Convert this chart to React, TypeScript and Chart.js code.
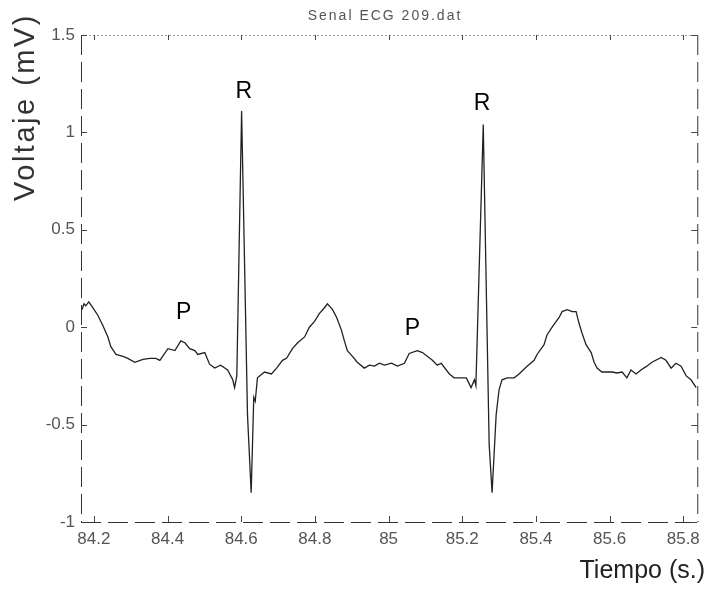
import React, { useEffect, useRef } from "react";
import { Chart, registerables } from "chart.js";

Chart.register(...registerables);

const chartTitle = "Senal ECG 209.dat";
const xAxisTitle = "Tiempo (s.)";
const yAxisTitle = "Voltaje (mV)";

const xMin = 84.165;
const xMax = 85.838;
const yMin = -1;
const yMax = 1.5;

const xTickValues = [84.2, 84.4, 84.6, 84.8, 85, 85.2, 85.4, 85.6, 85.8];
const yTickValues = [-1, -0.5, 0, 0.5, 1, 1.5];

const timeValues = [
  84.168, 84.173, 84.178, 84.186, 84.197, 84.211, 84.224, 84.238, 84.246, 84.26,
  84.279, 84.292, 84.311, 84.333, 84.352, 84.368, 84.379, 84.401, 84.42, 84.436,
  84.447, 84.46, 84.474, 84.482, 84.501, 84.514, 84.528, 84.544, 84.563, 84.577,
  84.582, 84.588, 84.601, 84.617, 84.627, 84.634, 84.638, 84.644, 84.663, 84.682,
  84.696, 84.712, 84.723, 84.739, 84.753, 84.772, 84.785, 84.799, 84.812, 84.826,
  84.834, 84.848, 84.859, 84.872, 84.88, 84.888, 84.902, 84.915, 84.934, 84.948,
  84.962, 84.975, 84.989, 85.008, 85.024, 85.043, 85.056, 85.078, 85.092, 85.119,
  85.132, 85.143, 85.165, 85.178, 85.211, 85.224, 85.233, 85.237, 85.257, 85.273,
  85.281, 85.292, 85.3, 85.308, 85.322, 85.341, 85.354, 85.376, 85.395, 85.403,
  85.422, 85.43, 85.444, 85.455, 85.463, 85.471, 85.485, 85.498, 85.509, 85.517,
  85.525, 85.536, 85.55, 85.558, 85.566, 85.579, 85.593, 85.607, 85.62, 85.634,
  85.647, 85.658, 85.672, 85.685, 85.701, 85.715, 85.74, 85.753, 85.767, 85.78,
  85.794, 85.808, 85.821, 85.835,
];

const voltageValues = [
  0.09, 0.12, 0.11, 0.13, 0.1, 0.06, 0.01, -0.05, -0.1, -0.14,
  -0.15, -0.16, -0.18, -0.165, -0.16, -0.16, -0.17, -0.11, -0.12, -0.07,
  -0.08, -0.11, -0.12, -0.14, -0.13, -0.19, -0.21, -0.195, -0.22, -0.27,
  -0.31, -0.25, 1.11, -0.45, -0.85, -0.36, -0.38, -0.26, -0.23, -0.24,
  -0.21, -0.17, -0.16, -0.11, -0.08, -0.05, 0.0, 0.03, 0.07, 0.1,
  0.12, 0.09, 0.05, -0.015, -0.07, -0.12, -0.15, -0.18, -0.21, -0.195,
  -0.2, -0.185, -0.195, -0.185, -0.2, -0.185, -0.135, -0.12, -0.13, -0.17,
  -0.195, -0.185, -0.24, -0.26, -0.26, -0.31, -0.27, -0.3, 1.04, -0.6,
  -0.85, -0.45, -0.32, -0.27, -0.26, -0.26, -0.24, -0.2, -0.17, -0.14,
  -0.09, -0.04, 0.0, 0.03, 0.05, 0.08, 0.09, 0.08, 0.08, 0.02,
  -0.03, -0.09, -0.13, -0.18, -0.21, -0.23, -0.23, -0.23, -0.235, -0.23,
  -0.26, -0.22, -0.24, -0.22, -0.2, -0.18, -0.155, -0.17, -0.21, -0.185,
  -0.2, -0.25, -0.27, -0.31,
];

const waveLabels = ["P", "R", "P", "R"];
const waveLabelTimes = [84.444, 84.607, 85.065, 85.254];
const waveLabelVoltages = [0.077, 1.21, -0.01, 1.15];

const decorPlugin = {
  id: "ecgDecor",
  afterDraw(chart: any) {
    const { ctx, chartArea } = chart;
    const xs = chart.scales.x;
    const ys = chart.scales.y;
    const { left, right, top, bottom } = chartArea;
    ctx.save();

    // frame
    ctx.lineWidth = 1;
    ctx.strokeStyle = "#9a9a9a";
    ctx.setLineDash([2, 2]);
    ctx.beginPath();
    ctx.moveTo(left, top + 0.5);
    ctx.lineTo(right, top + 0.5);
    ctx.stroke();
    ctx.strokeStyle = "#333";
    ctx.setLineDash([20, 7]);
    ctx.beginPath();
    ctx.moveTo(left + 0.5, top);
    ctx.lineTo(left + 0.5, bottom);
    ctx.moveTo(left, bottom + 0.5);
    ctx.lineTo(right, bottom + 0.5);
    ctx.moveTo(right + 0.5, top);
    ctx.lineTo(right + 0.5, bottom);
    ctx.stroke();
    ctx.setLineDash([]);

    // inward ticks
    ctx.strokeStyle = "#444";
    ctx.beginPath();
    xTickValues.forEach((v) => {
      const px = Math.round(xs.getPixelForValue(v)) + 0.5;
      ctx.moveTo(px, bottom);
      ctx.lineTo(px, bottom - 6);
      ctx.moveTo(px, top);
      ctx.lineTo(px, top + 5);
    });
    yTickValues.forEach((v) => {
      const py = Math.round(ys.getPixelForValue(v)) + 0.5;
      ctx.moveTo(left, py);
      ctx.lineTo(left + 6, py);
      ctx.moveTo(right, py);
      ctx.lineTo(right - 6, py);
    });
    ctx.stroke();

    // wave labels
    ctx.fillStyle = "#000";
    ctx.font = "23px 'Liberation Sans', Arial, sans-serif";
    ctx.textAlign = "center";
    ctx.textBaseline = "middle";
    waveLabels.forEach((txt, i) => {
      ctx.fillText(
        txt,
        xs.getPixelForValue(waveLabelTimes[i]),
        ys.getPixelForValue(waveLabelVoltages[i])
      );
    });

    // title
    ctx.fillStyle = "#555";
    ctx.font = "14px 'Liberation Sans', Arial, sans-serif";
    (ctx as any).letterSpacing = "2px";
    ctx.textAlign = "center";
    ctx.textBaseline = "middle";
    ctx.fillText(chartTitle, 385, 16);

    // x axis title
    (ctx as any).letterSpacing = "0px";
    ctx.fillStyle = "#222";
    ctx.font = "25px 'Liberation Sans', Arial, sans-serif";
    ctx.textAlign = "right";
    ctx.textBaseline = "middle";
    ctx.fillText(xAxisTitle, 705, 571);

    // y axis title
    ctx.translate(26, 107);
    ctx.rotate(-Math.PI / 2);
    (ctx as any).letterSpacing = "2.5px";
    ctx.font = "29px 'Liberation Sans', Arial, sans-serif";
    ctx.fillStyle = "#333";
    ctx.textAlign = "center";
    ctx.textBaseline = "middle";
    ctx.fillText(yAxisTitle, 0, 0);
    (ctx as any).letterSpacing = "0px";

    ctx.restore();
  },
};

export default function App() {
  const canvasRef = useRef<HTMLCanvasElement | null>(null);

  useEffect(() => {
    const canvas = canvasRef.current;
    if (!canvas) return;
    const points = timeValues.map((t, i) => ({ x: t, y: voltageValues[i] }));
    const tickFont = { family: "'Liberation Sans', Arial, sans-serif", size: 17 };
    const chart = new Chart(canvas, {
      type: "line",
      data: {
        datasets: [
          {
            data: points,
            borderColor: "#222",
            borderWidth: 1.3,
            pointRadius: 0,
            tension: 0,
            fill: false,
          },
        ],
      },
      options: {
        animation: false,
        responsive: false,
        maintainAspectRatio: false,
        layout: { padding: { left: 0, right: 8, top: 35, bottom: 0 } },
        plugins: {
          legend: { display: false },
          title: { display: false },
          tooltip: { enabled: false },
        },
        scales: {
          x: {
            type: "linear",
            min: xMin,
            max: xMax,
            grid: { display: false, drawTicks: false },
            border: { display: false },
            afterBuildTicks: (scale: any) => {
              scale.ticks = xTickValues.map((v) => ({ value: v }));
            },
            afterFit: (scale: any) => {
              scale.height = 68;
            },
            ticks: {
              autoSkip: false,
              maxRotation: 0,
              padding: 7,
              color: "#555",
              font: tickFont,
              callback: (v: any) => String(Number(Number(v).toFixed(1))),
            },
          },
          y: {
            type: "linear",
            min: yMin,
            max: yMax,
            grid: { display: false, drawTicks: false },
            border: { display: false },
            afterBuildTicks: (scale: any) => {
              scale.ticks = yTickValues.map((v) => ({ value: v }));
            },
            afterFit: (scale: any) => {
              scale.width = 81;
            },
            ticks: {
              autoSkip: false,
              padding: 6,
              color: "#555",
              font: tickFont,
              callback: (v: any) => String(Number(Number(v).toFixed(1))),
            },
          },
        },
      },
      plugins: [decorPlugin],
    });
    return () => chart.destroy();
  }, []);

  return (
    <div style={{ position: "absolute", left: 0, top: 0, width: 707, height: 590, background: "#fff" }}>
      <canvas ref={canvasRef} width={707} height={590} style={{ display: "block" }} />
    </div>
  );
}
